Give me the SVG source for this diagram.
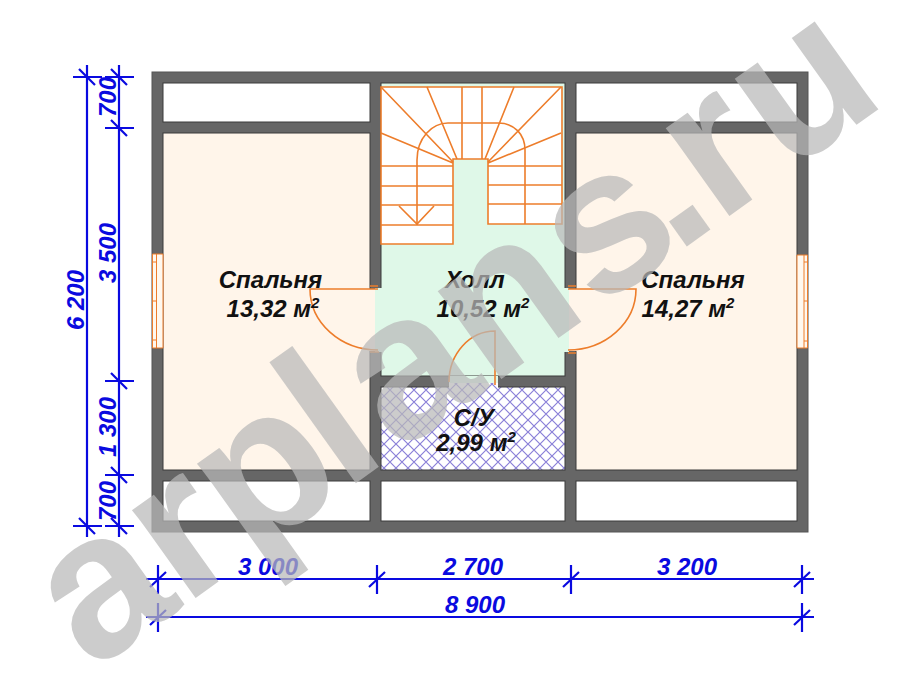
<svg xmlns="http://www.w3.org/2000/svg" width="900" height="675" viewBox="0 0 900 675">
<style>
.room{stroke:#3a3a3a;stroke-width:1}
.or{fill:none;stroke:#ed7d2b;stroke-width:1.6}
.win{fill:none;stroke:#ed7d2b;stroke-width:1}
.bl{fill:none;stroke:#0a0ae0;stroke-width:2.2}
.t{font-family:"Liberation Sans",Arial,sans-serif;font-weight:bold;font-style:italic;font-size:24px;text-anchor:middle;fill:#111}
.d{font-family:"Liberation Sans",Arial,sans-serif;font-weight:bold;font-style:italic;font-size:24px;text-anchor:middle;fill:#0a0ae0}
.s{font-size:15px}
</style>
<defs>
<pattern id="h" width="12" height="12" patternUnits="userSpaceOnUse">
<rect width="12" height="12" fill="#fff"/>
<path d="M0 0L12 12M12 0L0 12" stroke="#8a80d8" stroke-width="1.2"/>
</pattern>
</defs>
<rect width="900" height="675" fill="#fff"/>
<g id="walls">
<rect x="152" y="72" width="656" height="460" fill="#666" stroke="#555"/>
<rect class="room" x="163" y="83" width="207" height="39" fill="#fff"/>
<rect class="room" x="576" y="83" width="221" height="39" fill="#fff"/>
<rect class="room" x="163" y="481" width="207" height="40" fill="#fff"/>
<rect class="room" x="381" y="481" width="184" height="40" fill="#fff"/>
<rect class="room" x="576" y="481" width="221" height="40" fill="#fff"/>
</g>
<g id="room-bedroom-left"><rect class="room" x="163" y="133" width="207" height="337" fill="#fff5ea"/></g>
<g id="room-bedroom-right"><rect class="room" x="576" y="133" width="221" height="337" fill="#fff5ea"/></g>
<g id="room-hall">
<rect class="room" x="381" y="83" width="184" height="293" fill="#dff8e8"/>
<rect x="369" y="289" width="208" height="62" fill="#fff5ea"/>
<rect x="375" y="288" width="194" height="64" fill="#dff8e8"/>
</g>
<g id="room-bath">
<rect class="room" x="381" y="387" width="184" height="83" fill="url(#h)"/>
<rect x="449" y="376" width="49" height="7" fill="#dff8e8"/>
<rect x="449" y="383" width="49" height="5" fill="url(#h)"/>
</g>
<g id="windows">
<rect x="152.500" y="254" width="10.500" height="94" fill="#fff8ef"/>
<rect x="797" y="255" width="10.500" height="93" fill="#fff8ef"/>
<path class="win" d="M152.500 254V348M156.500 254V348M163 254V348M152.500 254H163M152.500 348H163M797 255V348M804 255V348M807.500 255V348M797 255H807.500M797 348H807.500M156.500 262H152.500M156.500 301H152.500M156.500 340H152.500M804 262H807.500M804 301H807.500M804 341H807.500"/>
</g>
<g id="stairs" class="or">
<path fill="#fff" d="M381 87H562V224H488V159H453V244H381Z"/>
<path d="M381 87L453 162M427 87L457 159M462 87V159M482 87V159M514 87L485 159M561 87L488 162M381 133L453 163M561 133L488 163"/>
<path d="M381 166H453M381 186H453M381 205H453M381 225H453M488 166H562M488 185H562M488 204H562"/>
<path d="M417 225V160C417 138 432 123 448 123H498C515 123 525 135 525 150V224"/>
<path d="M399 206L417 224L434 206"/>
</g>
<g id="doors" class="or">
<path d="M378 289H310A68 61 0 0 0 378 350"/>
<path d="M568 289H636A68 61 0 0 1 568 350"/>
<path d="M495 385V331A46 51 0 0 0 449 382"/>
<path d="M370 286H378M568 286H576M370 352H379M568 353H576"/>
</g>
<g id="labels">
<text class="t" x="270.500" y="288">Спальня</text>
<text class="t" x="273" y="317">13,32 м<tspan class="s" dy="-9">2</tspan></text>
<text class="t" x="475" y="288">Холл</text>
<text class="t" x="483" y="317">10,52 м<tspan class="s" dy="-9">2</tspan></text>
<text class="t" x="474" y="426">С/У</text>
<text class="t" x="476" y="451">2,99 м<tspan class="s" dy="-9">2</tspan></text>
<text class="t" x="693" y="288">Спальня</text>
<text class="t" x="688" y="317">14,27 м<tspan class="s" dy="-9">2</tspan></text>
</g>
<g id="connectors" class="bl">
<path d="M87 65V537M119 65V537"/>
<path d="M73 77H102M105 77H134M105 128H134M105 381H134M105 475H134M73 526H102M105 526H134"/>
<path d="M79 69L95 85M111 69L127 85M111 120L127 136M111 373L127 389M111 467L127 483M79 518L95 534M111 518L127 534"/>
<path d="M146 579H814M146 617H814"/>
<path d="M158 565V594M377 565V594M571 565V594M802 565V594M158 603V632M802 603V632"/>
<path d="M150 587L166 572M369 587L385 572M563 587L579 572M794 587L810 572M150 625L166 610M794 625L810 610"/>
</g>
<g id="dimensions">
<text class="d" x="268" y="575">3 000</text>
<text class="d" x="473" y="575">2 700</text>
<text class="d" x="687" y="575">3 200</text>
<text class="d" x="475" y="613">8 900</text>
<text class="d" transform="translate(84 300) rotate(-90)">6 200</text>
<text class="d" transform="translate(116 253) rotate(-90)">3 500</text>
<text class="d" transform="translate(116 427) rotate(-90)">1 300</text>
<text class="d" transform="translate(116 97) rotate(-90)">700</text>
<text class="d" transform="translate(116 501) rotate(-90)">700</text>
</g>
<text id="watermark" transform="translate(91.400 672.600) rotate(-35.600)" dx="0 0 0 -8 8 0 6 -17 -5 6" font-family="'Liberation Sans',Arial,sans-serif" font-weight="bold" font-size="205" fill="#b9b9b9" opacity=".72" style="font-kerning:none">arplans.ru</text>
</svg>
